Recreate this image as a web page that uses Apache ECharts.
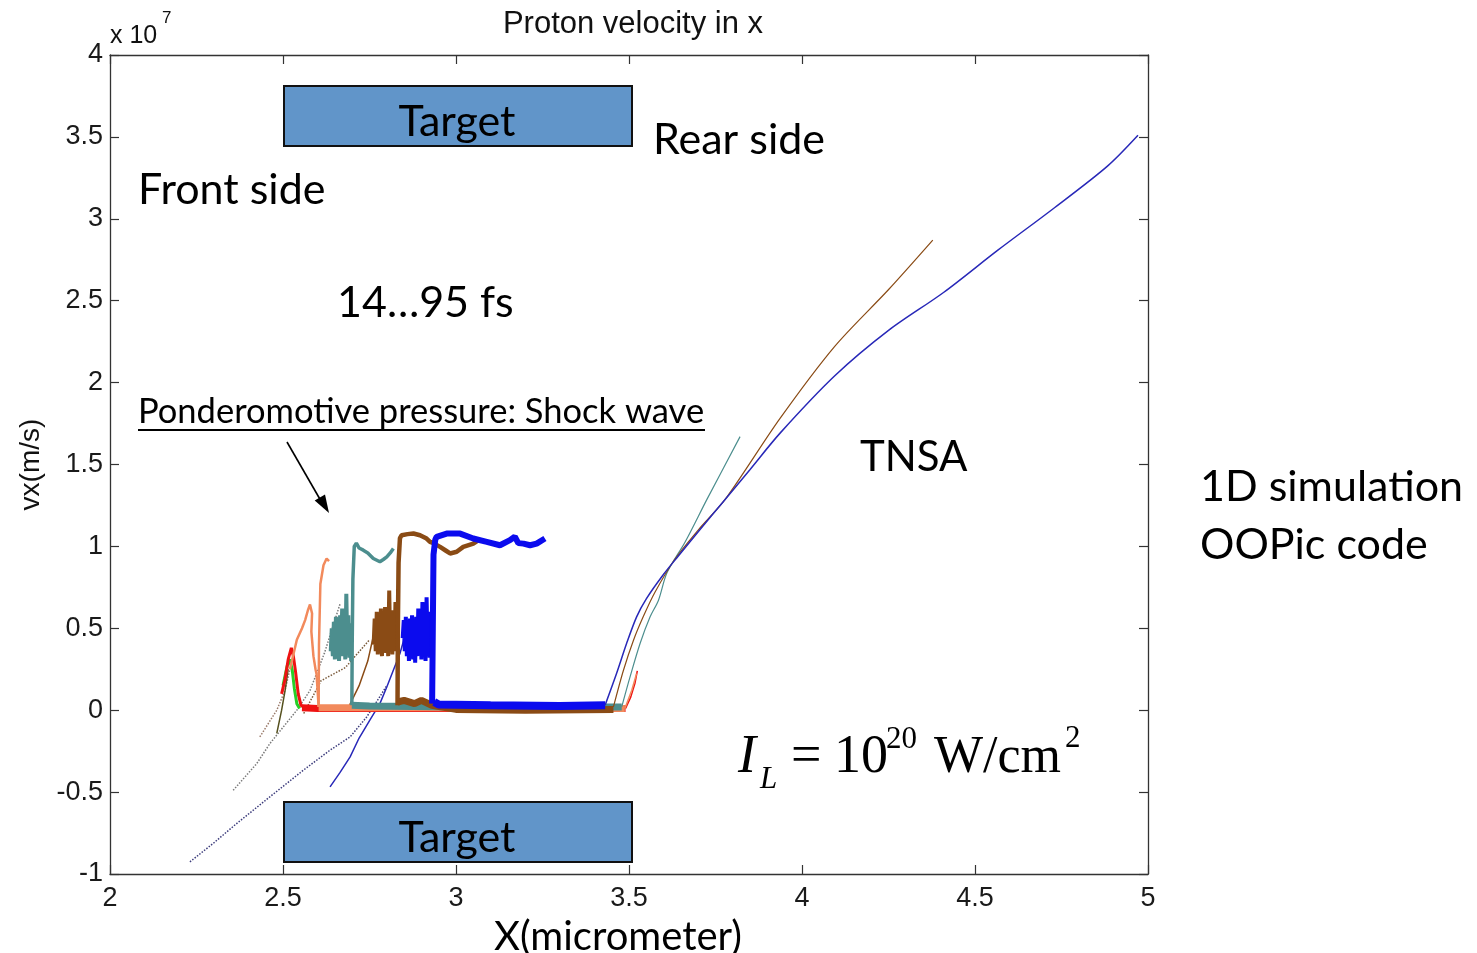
<!DOCTYPE html>
<html>
<head>
    <meta charset="utf-8">
    <title>Proton velocity in x</title>
    <script src="https://cdn.jsdelivr.net/npm/echarts@6/dist/echarts.min.js"></script>
    <style>
        html, body {margin:0;padding:0;background:#fff;}
        #chart {width:1477px;height:953px;}
    </style>
</head>
<body>
<div id="chart"></div>
<script>
    // values in units of 1e7 m/s, x in micrometer
    // thin front lines (negative velocity side)
    const navyFront = [[2.231,-0.926],[2.30,-0.81],[2.366,-0.692],[2.462,-0.529],[2.559,-0.366],[2.636,-0.244],[2.694,-0.163],[2.742,-0.041],[2.77,0.05],[2.80,0.15]];
    const tealFront = [[2.356,-0.489],[2.424,-0.326],[2.462,-0.204],[2.54,0.0],[2.578,0.12],[2.62,0.35],[2.665,0.65]];
    const orangeFront = [[2.433,-0.163],[2.482,0.0],[2.506,0.122],[2.52,0.25]];
    const oliveFront = [[2.482,-0.142],[2.496,0.0],[2.506,0.12],[2.515,0.25]];
    const brownFront = [[2.56,-0.02],[2.61,0.18],[2.68,0.26],[2.75,0.43]];
    const brownRise = [[2.69,0.02],[2.72,0.15],[2.745,0.30],[2.761,0.45]];
    const blueFront = [[2.636,-0.468],[2.665,-0.38],[2.694,-0.285],[2.72,-0.17],[2.751,-0.061],[2.78,0.04],[2.80,0.142],[2.82,0.25],[2.838,0.346],[2.857,0.488]];

    // green snapshot
    const greenShock = [[2.500,0.15],[2.512,0.27],[2.520,0.31],[2.527,0.24],[2.533,0.13],[2.540,0.04],[2.548,0.01]];

    // red snapshot
    const redShock = [[2.496,0.10],[2.506,0.19],[2.515,0.31],[2.524,0.38],[2.530,0.33],[2.536,0.24],[2.544,0.10],[2.552,0.03],[2.565,0.01]];
    const redFlat = [[2.555,0.015],[2.60,0.01],[3.0,0.01],[3.49,0.01]];
    const redTnsa = [[3.49,0.01],[3.505,0.08],[3.517,0.163],[3.524,0.24]];

    // orange snapshot
    const orangeHump = [[2.52,0.25],[2.54,0.43],[2.555,0.50],[2.564,0.55],[2.572,0.61],[2.578,0.645],[2.584,0.59],[2.582,0.48],[2.588,0.33],[2.594,0.25],[2.597,0.22],[2.603,0.02]];
    const orangeSpike = [[2.603,0.02],[2.604,0.40],[2.608,0.77],[2.617,0.885],[2.626,0.926],[2.633,0.91]];
    const orangeFlat = [[2.603,0.015],[2.70,0.015],[3.2,0.015],[3.488,0.01]];
    const orangeTnsa = [[3.488,0.01],[3.508,0.122],[3.522,0.224]];

    // teal snapshot
    const tealBlock = [[2.638,0.36],[2.641,0.50],[2.644,0.33],[2.647,0.54],[2.650,0.31],[2.653,0.57],[2.656,0.34],[2.659,0.52],[2.662,0.30],[2.665,0.58],[2.668,0.35],[2.671,0.62],[2.674,0.33],[2.677,0.55],[2.680,0.31],[2.683,0.71],[2.686,0.36],[2.689,0.58],[2.692,0.32],[2.695,0.53],[2.697,0.30]];
    const tealPlateau = [[2.699,0.03],[2.700,0.40],[2.702,0.80],[2.706,1.0],[2.712,1.02],[2.72,0.99],[2.732,0.977],[2.745,0.96],[2.761,0.926],[2.78,0.906],[2.79,0.92],[2.80,0.936],[2.81,0.96],[2.819,0.987]];
    const tealFlat = [[2.699,0.03],[2.75,0.025],[3.0,0.02],[3.3,0.02],[3.479,0.02]];
    const tealTnsa = [[3.479,0.02],[3.503,0.203],[3.532,0.407],[3.561,0.57],[3.585,0.67],[3.61,0.84],[3.663,1.03],[3.726,1.29],[3.821,1.67]];

    // brown snapshot
    const brownBlock = [[2.762,0.40],[2.765,0.56],[2.768,0.36],[2.771,0.60],[2.774,0.34],[2.777,0.58],[2.780,0.37],[2.783,0.62],[2.786,0.33],[2.789,0.57],[2.792,0.36],[2.795,0.63],[2.798,0.35],[2.801,0.60],[2.804,0.33],[2.807,0.73],[2.810,0.37],[2.813,0.61],[2.816,0.34],[2.819,0.58],[2.822,0.36],[2.825,0.66],[2.828,0.40]];
    const brownPlateau = [[2.831,0.03],[2.832,0.50],[2.834,0.90],[2.838,1.05],[2.843,1.068],[2.86,1.075],[2.877,1.079],[2.896,1.068],[2.915,1.048],[2.925,1.028],[2.935,1.02],[2.954,0.997],[2.97,0.975],[2.983,0.957],[3.002,0.967],[3.021,0.997],[3.05,1.017],[3.065,1.038]];
    const brownFlat = [[2.831,0.05],[2.85,0.06],[2.88,0.04],[2.90,0.06],[2.93,0.03],[3.0,0.005],[3.2,0.0],[3.455,0.005]];
    const brownTnsa = [[3.455,0.02],[3.484,0.244],[3.513,0.427],[3.541,0.57],[3.575,0.72],[3.632,0.92],[3.70,1.10],[3.779,1.29],[3.936,1.78],[4.094,2.22],[4.251,2.57],[4.378,2.87]];

    // blue snapshot (latest)
    const blueBlock = [[2.846,0.44],[2.849,0.55],[2.852,0.36],[2.855,0.57],[2.858,0.33],[2.861,0.55],[2.864,0.30],[2.867,0.56],[2.870,0.34],[2.873,0.58],[2.876,0.31],[2.879,0.54],[2.882,0.29],[2.885,0.57],[2.888,0.33],[2.891,0.62],[2.894,0.35],[2.897,0.58],[2.900,0.31],[2.903,0.66],[2.906,0.34],[2.909,0.57],[2.912,0.30],[2.915,0.69],[2.918,0.36],[2.921,0.60],[2.924,0.32],[2.927,0.55],[2.930,0.40]];
    const bluePlateau = [[2.931,0.04],[2.933,0.50],[2.935,0.95],[2.94,1.04],[2.944,1.058],[2.973,1.078],[3.012,1.078],[3.05,1.048],[3.089,1.028],[3.127,1.007],[3.156,1.038],[3.17,1.06],[3.18,1.02],[3.195,1.017],[3.214,1.007],[3.233,1.017],[3.257,1.048]];
    const blueFlat = [[2.937,0.05],[2.95,0.035],[3.1,0.03],[3.3,0.025],[3.431,0.03]];
    const blueTnsa = [[3.431,0.031],[3.464,0.224],[3.493,0.407],[3.522,0.57],[3.55,0.68],[3.6,0.83],[3.642,0.94],[3.70,1.09],[3.779,1.29],[3.85,1.47],[3.936,1.69],[4.094,2.04],[4.251,2.32],[4.409,2.55],[4.567,2.81],[4.725,3.06],[4.882,3.32],[4.971,3.51]];

    const chart = echarts.init(document.getElementById('chart'));

    function seg(data, color, width, dash, smooth) {
        return {
            type: 'line', data: data, symbol: 'none', silent: true, smooth: smooth || false,
            lineStyle: {color: color, width: width, type: dash || 'solid'}
        };
    }

    const C = {
        green: '#27cf27', red: '#ee1212', orange: '#f28a5c', teal: '#4c8e8e',
        brown: '#8a4b15', blue: '#0b0bee', blueT: '#2828b8', navy: '#3c3c7c', grey: '#7a7a7a'
    };

    const series = [
        seg(navyFront, C.navy, 1.5, 'dotted'),
        seg(tealFront, C.grey, 1.5, 'dotted'),
        seg(orangeFront, '#9a7a6a', 1.5, 'dotted'),
        seg(oliveFront, '#55501e', 1.5),
        seg(brownFront, '#7a5a3a', 1.5, 'dotted'),
        seg(brownRise, C.brown, 1.5),
        seg(blueFront, C.blueT, 1.5),
        seg(greenShock, C.green, 3),
        seg(redShock, C.red, 3),
        seg(redFlat, C.red, 7),
        seg(redTnsa, C.red, 1.5),
        seg(orangeHump, C.orange, 2.5),
        seg(orangeSpike, C.orange, 2.5),
        seg(orangeFlat, C.orange, 7),
        seg(orangeTnsa, C.orange, 1.5),
        seg(tealBlock, C.teal, 4),
        seg(tealPlateau, C.teal, 3.5),
        seg(tealFlat, C.teal, 7),
        seg(tealTnsa, C.teal, 1.2, null, 0.3),
        seg(brownBlock, C.brown, 4),
        seg(brownPlateau, C.brown, 4.5),
        seg(brownFlat, C.brown, 7),
        seg(brownTnsa, C.brown, 1.2, null, 0.3),
        seg(blueBlock, C.blue, 4),
        seg(bluePlateau, C.blue, 6),
        seg(blueFlat, C.blue, 8),
        seg(blueTnsa, C.blueT, 1.5, null, 0.3)
    ];

    const axisFont = {fontFamily: 'Liberation Sans', fontSize: 27, color: '#1a1a1a'};
    const boxLine = {show: true, onZero: false, lineStyle: {color: '#333', width: 1.3}};
    const tickIn = {show: true, inside: true, length: 9, lineStyle: {color: '#333', width: 1.2}};
    const note = 'Lato, "Open Sans", sans-serif';

    function txt(x, y, s, size, align) {
        return {
            type: 'text', x: x, y: y, silent: true,
            style: {text: s, fontFamily: note, fontSize: size, fill: '#000', align: align || 'left', verticalAlign: 'middle'}
        };
    }

    function serif(x, y, s, size, italic) {
        return {
            type: 'text', x: x, y: y, silent: true,
            style: {text: s, fontFamily: 'Liberation Serif', fontStyle: italic ? 'italic' : 'normal', fontSize: size,
                    fill: '#000', align: 'left', verticalAlign: 'middle'}
        };
    }

    const option = {
        animation: false,
        backgroundColor: '#fff',
        title: {
            text: 'Proton velocity in x', left: 628, top: 4, textAlign: 'center',
            textStyle: {fontFamily: 'Liberation Sans', fontSize: 31, fontWeight: 'normal', color: '#111'}
        },
        grid: {left: 110, right: 329, top: 55, bottom: 79, containLabel: false, outerBoundsMode: 'none'},
        xAxis: [{
            type: 'value', min: 2, max: 5, interval: 0.5, position: 'bottom',
            axisLine: boxLine, axisTick: tickIn, splitLine: {show: false},
            axisLabel: Object.assign({margin: 11}, axisFont),
            name: 'X(micrometer)', nameLocation: 'middle', nameGap: 31,
            nameTextStyle: {fontFamily: note, fontSize: 40, color: '#000', padding: [0, 22, 0, 0]}
        }, {
            type: 'value', min: 2, max: 5, interval: 0.5, position: 'top',
            axisLine: boxLine, axisTick: tickIn, splitLine: {show: false}, axisLabel: {show: false}
        }],
        yAxis: [{
            type: 'value', min: -1, max: 4, interval: 0.5, position: 'left',
            axisLine: boxLine, axisTick: tickIn, splitLine: {show: false},
            axisLabel: Object.assign({margin: 7}, axisFont),
            name: 'vx(m/s)', nameLocation: 'middle', nameGap: 63, nameRotate: 90,
            nameTextStyle: {fontFamily: 'Liberation Sans', fontSize: 28, color: '#111'}
        }, {
            type: 'value', min: -1, max: 4, interval: 0.5, position: 'right',
            axisLine: boxLine, axisTick: tickIn, splitLine: {show: false}, axisLabel: {show: false}
        }],
        series: series,
        graphic: [
            {type: 'text', x: 110, y: 36, silent: true,
             style: {text: 'x 10', fontFamily: 'Liberation Sans', fontSize: 25, fill: '#111', align: 'left', verticalAlign: 'middle'}},
            {type: 'text', x: 162, y: 18, silent: true,
             style: {text: '7', fontFamily: 'Liberation Sans', fontSize: 17, fill: '#111', align: 'left', verticalAlign: 'middle'}},
            {type: 'rect', silent: true, shape: {x: 284, y: 86, width: 348, height: 60},
             style: {fill: '#6195c9', stroke: '#111', lineWidth: 2}},
            {type: 'rect', silent: true, shape: {x: 284, y: 802, width: 348, height: 60},
             style: {fill: '#6195c9', stroke: '#111', lineWidth: 2}},
            txt(457, 122, 'Target', 43, 'center'),
            txt(457, 838, 'Target', 43, 'center'),
            txt(653, 140, 'Rear side', 43),
            txt(138, 190, 'Front side', 43),
            txt(337, 303, '14…95 fs', 43),
            txt(138, 412, 'Ponderomotive pressure: Shock wave', 34.5),
            {type: 'line', silent: true, shape: {x1: 138, y1: 430, x2: 705, y2: 430}, style: {stroke: '#000', lineWidth: 2}},
            {type: 'line', silent: true, shape: {x1: 287, y1: 442, x2: 321, y2: 501}, style: {stroke: '#000', lineWidth: 1.6}},
            {type: 'polygon', silent: true, shape: {points: [[329, 513], [325, 494.5], [314.7, 500.5]]}, style: {fill: '#000'}},
            txt(860, 457, 'TNSA', 42),
            txt(1200, 487, '1D simulation', 43),
            txt(1200, 545, 'OOPic code', 43),
            serif(738, 758, 'I', 54, true),
            serif(760, 780, 'L', 31, true),
            serif(791, 758, '=', 54),
            serif(834, 758, '10', 54),
            serif(886, 740, '20', 31),
            serif(934, 758, 'W/cm', 52),
            serif(1065, 739, '2', 31)
        ]
    };

    chart.setOption(option);
</script>
</body>
</html>
